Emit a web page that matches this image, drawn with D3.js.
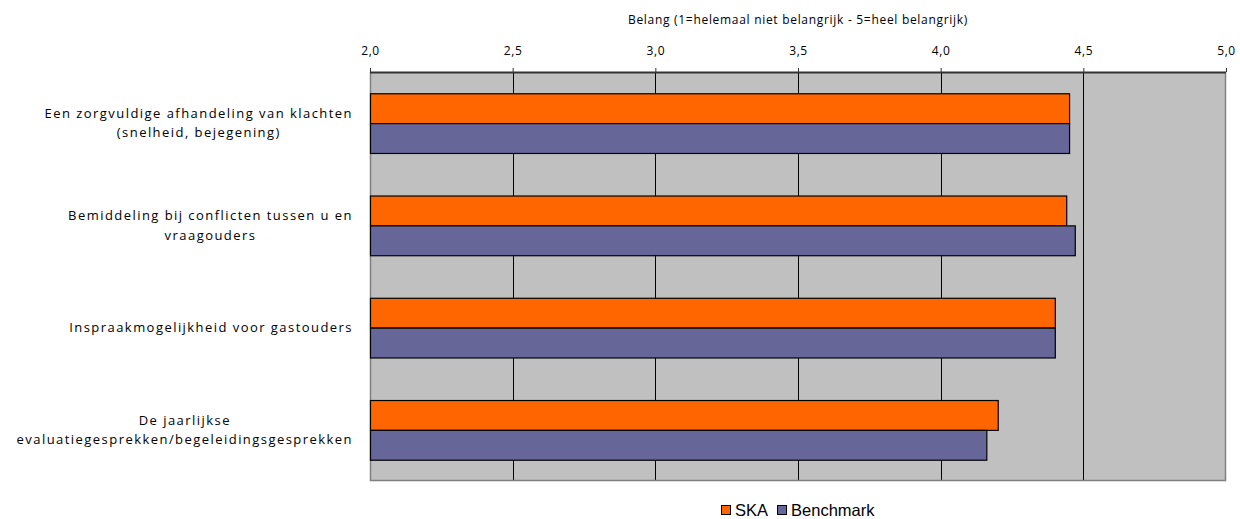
<!DOCTYPE html>
<html>
<head>
<meta charset="utf-8">
<script src="https://cdn.jsdelivr.net/npm/d3@7"></script>
<style>
  html, body { margin: 0; padding: 0; background: #ffffff; }
  svg { display: block; }
</style>
</head>
<body>
<svg id="chart" width="1240" height="519"></svg>
<script>
// Rated importance per topic (scale 1–5)
const categories = [
  ["Een zorgvuldige afhandeling van klachten", "(snelheid, bejegening)"],
  ["Bemiddeling bij conflicten tussen u en", "vraagouders"],
  ["Inspraakmogelijkheid voor gastouders"],
  ["De jaarlijkse", "evaluatiegesprekken/begeleidingsgesprekken"]
];
const seriesNames = ["SKA", "Benchmark"];
const skaValues = [4.45, 4.44, 4.40, 4.20];
const benchmarkValues = [4.45, 4.47, 4.40, 4.16];
const tickValues = [2.0, 2.5, 3.0, 3.5, 4.0, 4.5, 5.0];
const axisTitle = "Belang (1=helemaal niet belangrijk - 5=heel belangrijk)";

const colors = { SKA: "#FF6600", Benchmark: "#666699" };
const labelFont = "'Open Sans', 'Noto Sans', sans-serif";

const svg = d3.select("#chart");
const plot = { left: 370, right: 1226, top: 72, bottom: 481 };

const x = d3.scaleLinear().domain([2, 5]).range([plot.left, plot.right]);
const catIndex = categories.map((d, i) => i);
const y0 = d3.scaleBand().domain(catIndex).range([plot.top, plot.bottom])
  .paddingInner(0.416).paddingOuter(0.208);
const y1 = d3.scaleBand().domain(seriesNames).range([0, y0.bandwidth()]);

const data = catIndex.map(i => ({
  i,
  values: [
    { name: "SKA", value: skaValues[i] },
    { name: "Benchmark", value: benchmarkValues[i] }
  ]
}));

// Plot background
svg.append("rect")
  .attr("x", plot.left).attr("y", plot.top)
  .attr("width", plot.right - plot.left).attr("height", plot.bottom - plot.top)
  .attr("fill", "#C0C0C0");

// Vertical gridlines
svg.append("g").selectAll("line")
  .data(tickValues.slice(1, -1))
  .join("line")
  .attr("x1", d => Math.round(x(d)) + 0.5).attr("x2", d => Math.round(x(d)) + 0.5)
  .attr("y1", plot.top).attr("y2", plot.bottom)
  .attr("stroke", "#000").attr("stroke-width", 1);

// Plot border (left, right, bottom)
svg.append("path")
  .attr("d", `M${plot.left + 0.5},${plot.top} V${plot.bottom - 0.5} H${plot.right - 0.5} V${plot.top}`)
  .attr("fill", "none").attr("stroke", "#808080").attr("stroke-width", 1.5);

// Bars
const groups = svg.append("g").selectAll("g")
  .data(data).join("g")
  .attr("transform", d => `translate(0,${y0(d.i)})`);

groups.selectAll("rect")
  .data(d => d.values).join("rect")
  .attr("x", x(2) + 0.5)
  .attr("y", d => y1(d.name) + 0.5)
  .attr("width", d => x(d.value) - x(2))
  .attr("height", y1.bandwidth())
  .attr("fill", d => colors[d.name])
  .attr("stroke", "#000").attr("stroke-width", 1.2);

// Top value axis
const axis = d3.axisTop(x)
  .tickValues(tickValues)
  .tickSize(4)
  .tickPadding(13)
  .tickFormat(d => d3.format(".1f")(d).replace(".", ","));

const axisG = svg.append("g")
  .attr("transform", `translate(0,${plot.top})`)
  .call(axis);
axisG.select(".domain").attr("stroke", "#333").attr("stroke-width", 2)
  .attr("d", `M${plot.left},0.5H${plot.right}`);
axisG.selectAll(".tick line").attr("stroke", "#333");
axisG.selectAll(".tick text")
  .attr("font-family", labelFont).attr("font-size", 12)
  .attr("letter-spacing", "0.6px")
  .attr("fill", "#000");

// Axis title
svg.append("text")
  .attr("x", (plot.left + plot.right) / 2).attr("y", 24)
  .attr("text-anchor", "middle")
  .attr("font-family", labelFont).attr("font-size", 12)
  .attr("letter-spacing", "0.7px")
  .attr("fill", "#000")
  .text(axisTitle);

// Category labels: centred lines, block right-aligned next to the plot
const labelRight = 353;
const lineGap = 19.5;
catIndex.forEach(i => {
  const lines = categories[i];
  const cy = y0(i) + y0.bandwidth() / 2;
  const g = svg.append("g");
  const texts = lines.map((line, k) => g.append("text")
    .attr("font-family", labelFont).attr("font-size", 13)
    .attr("letter-spacing", "1.45px")
    .attr("fill", "#000")
    .attr("text-anchor", "middle")
    .attr("y", cy + (k - (lines.length - 1) / 2) * lineGap + 4.5)
    .text(line));
  const widths = texts.map(t => t.node().getComputedTextLength());
  const maxW = d3.max(widths);
  texts.forEach(t => t.attr("x", labelRight - maxW / 2));
});

// Legend
const legend = svg.append("g");
let lx = 721;
seriesNames.forEach(name => {
  legend.append("rect")
    .attr("x", lx + 0.5).attr("y", 505.5)
    .attr("width", 9).attr("height", 9)
    .attr("fill", colors[name]).attr("stroke", "#000").attr("stroke-width", 1);
  const t = legend.append("text")
    .attr("x", lx + 14).attr("y", 516)
    .attr("font-family", "'Liberation Sans', Arial, sans-serif")
    .attr("font-size", 16.5)
    .attr("fill", "#000")
    .text(name);
  lx += 14 + t.node().getComputedTextLength() + 9;
});
</script>
</body>
</html>
